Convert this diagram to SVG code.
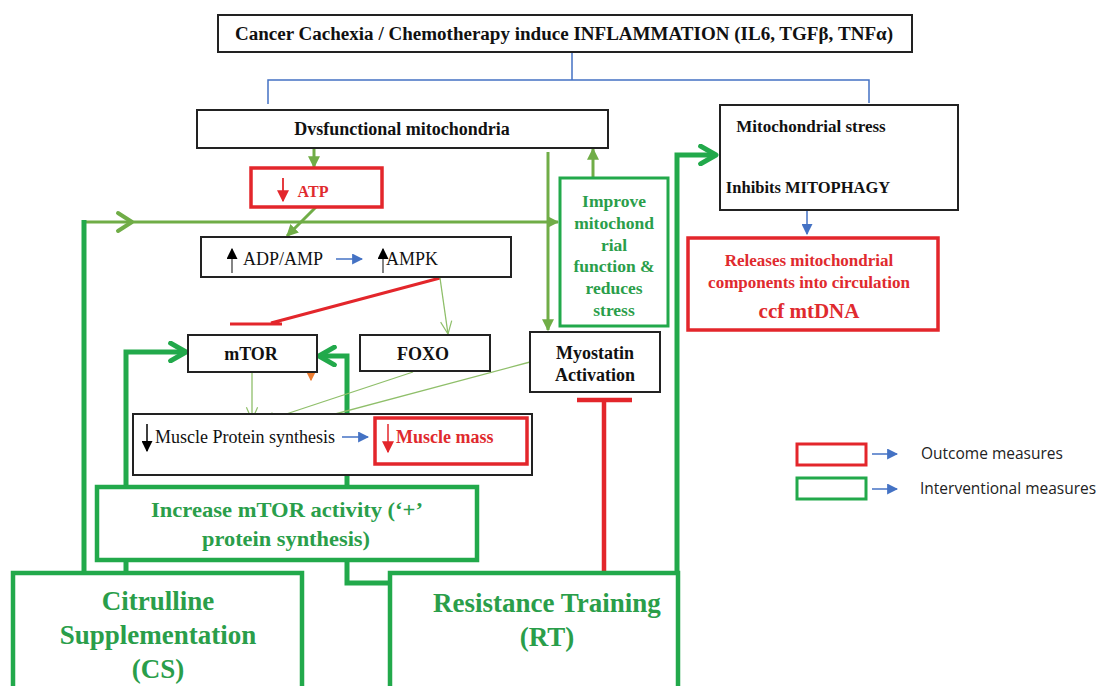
<svg xmlns="http://www.w3.org/2000/svg" width="1105" height="686" viewBox="0 0 1105 686">
<style>
.box{fill:#fff;stroke:#222;stroke-width:2}
.rbox{fill:#fff;stroke:#e3262b;stroke-width:3.5}
.gbox{fill:#fff;stroke:#22a94b;stroke-width:4.5}
.t{font-family:"Liberation Serif",serif;font-weight:bold;fill:#111;text-anchor:middle}
.tr{font-family:"Liberation Serif",serif;font-weight:bold;fill:#e02a2e;text-anchor:middle}
.tg{font-family:"Liberation Serif",serif;font-weight:bold;fill:#2a9e4a;text-anchor:middle}
.n{font-family:"Liberation Serif",serif;fill:#111}
.leg{font-family:"Open Sans","Liberation Sans",sans-serif;font-size:15.5px;fill:#222}
.blue{stroke:#4472c4;stroke-width:1.5;fill:none}
.lg{stroke:#70ad47;stroke-width:3;fill:none}
.lgt{stroke:#8fbf6a;stroke-width:1.3;fill:none}
.g{stroke:#22a94b;stroke-width:5;fill:none}
.red{stroke:#e3262b;fill:none}
</style>
<defs>
<marker id="triLG" viewBox="0 0 10 10" refX="9" refY="5" markerWidth="12" markerHeight="12" markerUnits="userSpaceOnUse" orient="auto"><path d="M0,0L10,5L0,10z" fill="#70ad47"/></marker>
<marker id="chevG" viewBox="0 0 20 20" refX="17" refY="10" markerWidth="22" markerHeight="22" markerUnits="userSpaceOnUse" orient="auto"><path d="M3,2L17,10L3,18" fill="none" stroke="#22a94b" stroke-width="4.5" stroke-linecap="round" stroke-linejoin="round"/></marker>
<marker id="chevT" viewBox="0 0 20 20" refX="18" refY="10" markerWidth="16" markerHeight="16" markerUnits="userSpaceOnUse" orient="auto"><path d="M2,3L18,10L2,17" fill="none" stroke="#8fbf6a" stroke-width="1.5"/></marker>
<marker id="triB" viewBox="0 0 10 10" refX="9" refY="5" markerWidth="11" markerHeight="11" markerUnits="userSpaceOnUse" orient="auto"><path d="M0,0L10,5L0,10z" fill="#4472c4"/></marker>
<marker id="triK" viewBox="0 0 10 10" refX="9" refY="5" markerWidth="11" markerHeight="11" markerUnits="userSpaceOnUse" orient="auto"><path d="M0,0L10,5L0,10z" fill="#000"/></marker>
<marker id="triR" viewBox="0 0 10 10" refX="9" refY="5" markerWidth="12" markerHeight="12" markerUnits="userSpaceOnUse" orient="auto"><path d="M0,0L10,5L0,10z" fill="#e3262b"/></marker>
<marker id="triO" viewBox="0 0 10 10" refX="9" refY="5" markerWidth="12" markerHeight="12" markerUnits="userSpaceOnUse" orient="auto"><path d="M0,0L10,5L0,10z" fill="#ed7d31"/></marker>
</defs>
<rect width="1105" height="686" fill="#fff"/>

<g id="connectors">
<path class="blue" d="M572,52V80M268,104V80H869V103"/>
<path class="blue" d="M807,210V234" marker-end="url(#triB)"/>
<path class="lg" d="M314,148V167" marker-end="url(#triLG)"/>
<path class="lg" d="M316,207L287,236" marker-end="url(#triLG)"/>
<path class="lg" d="M84,222H558" marker-end="url(#triLG)"/>
<path d="M118,213L132,222L118,231" fill="none" stroke="#70ad47" stroke-width="4" stroke-linecap="round" stroke-linejoin="round"/>
<path class="lg" d="M548,152V330" marker-end="url(#triLG)"/>
<path class="lg" d="M593,178V149" marker-end="url(#triLG)"/>
<path class="g" d="M677,574V155H716" marker-end="url(#chevG)"/>
<path class="g" d="M84,574V220"/>
<path class="g" d="M126,574V352H186" marker-end="url(#chevG)"/>
<path class="g" d="M390,583H347V356H319" marker-end="url(#chevG)"/>
<path class="red" stroke-width="3" d="M440,278L271,323M230,324H282"/>
<path class="red" stroke-width="1.5" d="M807,137V171M785,171H830"/>
<path class="red" stroke-width="4.5" d="M604,574V400M577,400H632"/>
<path class="lgt" d="M440,278L448,334" marker-end="url(#chevT)"/>
<path class="lgt" d="M252,372V420" marker-end="url(#chevT)"/>
<path class="lgt" d="M413,372L262,422" marker-end="url(#chevT)"/>
<path class="lgt" d="M530,362L275,430" marker-end="url(#chevT)"/>
<path stroke="#ed7d31" stroke-width="1.5" d="M311,357V380" marker-end="url(#triO)"/>
</g>

<g id="top">
<rect class="box" x="218" y="15" width="694" height="37"/>
<text class="t" x="564" y="40" font-size="18.5" textLength="658" lengthAdjust="spacingAndGlyphs">Cancer Cachexia / Chemotherapy induce INFLAMMATION (IL6, TGFβ, TNFα)</text>
</g>

<g id="dysfunctional">
<rect class="box" x="197" y="110" width="411" height="38"/>
<text class="t" x="402" y="135" font-size="18">Dvsfunctional mitochondria</text>
</g>

<g id="mitostress">
<rect class="box" x="720" y="105" width="238" height="105"/>
<text class="t" x="811" y="132" font-size="17">Mitochondrial stress</text>
<text class="t" x="808" y="193" font-size="16.5">Inhibits MITOPHAGY</text>
</g>

<g id="releases">
<rect class="rbox" x="688" y="238" width="250" height="92"/>
<text class="tr" x="809" y="266" font-size="17">Releases mitochondrial</text>
<text class="tr" x="809" y="288" font-size="17">components into circulation</text>
<text class="tr" x="809" y="318" font-size="21">ccf mtDNA</text>
</g>

<g id="atp">
<rect class="rbox" x="251" y="168" width="131" height="39"/>
<path stroke="#e3262b" stroke-width="1.8" d="M283,178V201" marker-end="url(#triR)"/>
<text class="tr" x="313" y="197" font-size="16">ATP</text>
</g>

<g id="adp">
<rect class="box" x="201" y="237" width="310" height="40"/>
<path stroke="#333" stroke-width="1.2" d="M232,273V249" marker-end="url(#triK)"/>
<text class="n" x="243" y="265" font-size="18">ADP/AMP</text>
<path stroke="#4472c4" stroke-width="1.5" d="M336,259H362" marker-end="url(#triB)"/>
<path stroke="#333" stroke-width="1.2" d="M383,273V249" marker-end="url(#triK)"/>
<text class="n" x="386" y="265" font-size="18">AMPK</text>
</g>

<g id="improve">
<rect fill="#fff" stroke="#22a94b" stroke-width="3" x="560" y="178" width="108" height="148"/>
<text class="tg" x="614" y="207" font-size="17.5">Improve</text>
<text class="tg" x="614" y="229" font-size="17.5">mitochond</text>
<text class="tg" x="614" y="251" font-size="17.5">rial</text>
<text class="tg" x="614" y="272" font-size="17.5">function &amp;</text>
<text class="tg" x="614" y="294" font-size="17.5">reduces</text>
<text class="tg" x="614" y="316" font-size="17.5">stress</text>
</g>

<g id="mtor">
<rect class="box" x="188" y="335" width="129" height="37"/>
<text class="t" x="251" y="360" font-size="18">mTOR</text>
</g>

<g id="foxo">
<rect class="box" x="360" y="335" width="130" height="36"/>
<text class="t" x="423" y="360" font-size="18">FOXO</text>
</g>

<g id="myostatin">
<rect class="box" x="530" y="332" width="130" height="60"/>
<text class="t" x="595" y="359" font-size="18">Myostatin</text>
<text class="t" x="595" y="381" font-size="18">Activation</text>
</g>

<g id="muscle">
<rect class="box" x="133" y="414" width="399" height="61"/>
<path stroke="#000" stroke-width="1.5" d="M147,424V451" marker-end="url(#triK)"/>
<text class="n" x="155" y="443" font-size="18">Muscle Protein synthesis</text>
<path stroke="#4472c4" stroke-width="1.5" d="M342,437H368" marker-end="url(#triB)"/>
<rect class="rbox" x="375" y="418" width="152" height="46"/>
<path stroke="#e3262b" stroke-width="1.5" d="M388,424V452" marker-end="url(#triR)"/>
<text x="396" y="443" font-size="18" font-family="Liberation Serif,serif" font-weight="bold" fill="#e02a2e">Muscle mass</text>
</g>

<g id="legend">
<rect fill="#fff" stroke="#e3262b" stroke-width="3" x="797" y="444" width="69" height="21"/>
<path stroke="#4472c4" stroke-width="1.5" d="M872,454H897" marker-end="url(#triB)"/>
<text class="leg" x="921" y="459">Outcome measures</text>
<rect fill="#fff" stroke="#22a94b" stroke-width="3" x="797" y="478" width="69" height="21"/>
<path stroke="#4472c4" stroke-width="1.5" d="M872,489H897" marker-end="url(#triB)"/>
<text class="leg" x="920" y="494">Interventional measures</text>
</g>

<g id="increase">
<rect class="gbox" x="97" y="487" width="380" height="73"/>
<text class="tg" x="287" y="517" font-size="21" textLength="272" lengthAdjust="spacingAndGlyphs">Increase mTOR activity (‘+’</text>
<text class="tg" x="286" y="546" font-size="21" textLength="168" lengthAdjust="spacingAndGlyphs">protein synthesis)</text>
</g>

<g id="cs">
<rect class="gbox" x="13" y="573" width="289" height="120"/>
<text class="tg" x="158" y="610" font-size="27">Citrulline</text>
<text class="tg" x="158" y="644" font-size="27">Supplementation</text>
<text class="tg" x="158" y="678" font-size="27">(CS)</text>
</g>

<g id="rt">
<rect class="gbox" x="390" y="573" width="288" height="120"/>
<text class="tg" x="547" y="612" font-size="27">Resistance Training</text>
<text class="tg" x="547" y="646" font-size="27">(RT)</text>
</g>
</svg>
